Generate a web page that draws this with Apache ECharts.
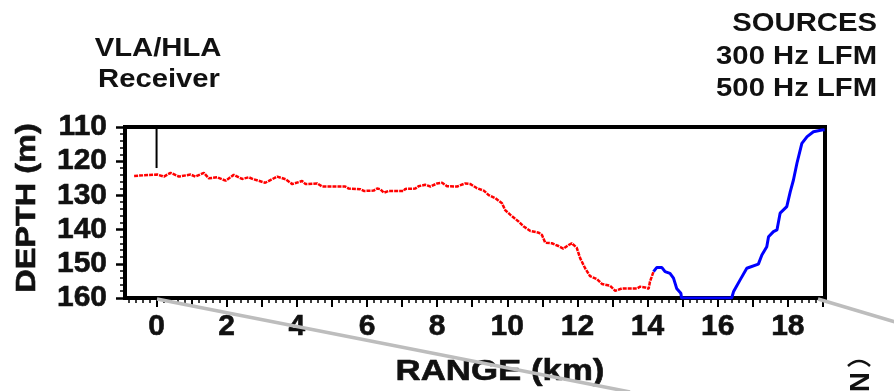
<!DOCTYPE html>
<html>
<head>
<meta charset="utf-8">
<script src="https://cdn.jsdelivr.net/npm/echarts@6/dist/echarts.min.js"></script>
<style>
  html, body { margin: 0; padding: 0; background: #fff; }
  #chart { width: 894px; height: 391px; }
</style>
</head>
<body>
<div id="chart"></div>
<script>
// Bathymetry along the source track: range (km) and water depth (m)
const redRange = [-0.64, 0.02, 0.21, 0.40, 0.64, 0.97, 1.11, 1.35, 1.49, 1.73, 1.97, 2.20, 2.44, 2.63, 2.77, 3.10,
  3.44, 3.68, 3.87, 4.15, 4.25, 4.58, 4.72, 5.38, 5.48, 5.81, 5.91, 6.19, 6.29, 6.38, 6.48, 6.62, 7.05, 7.09,
  7.38, 7.47, 7.66, 7.81, 8.00, 8.14, 8.28, 8.57, 8.80, 8.95, 9.14, 9.33, 9.47, 9.66, 9.85, 9.94, 10.09, 10.33,
  10.47, 10.66, 10.90, 10.99, 11.08, 11.27, 11.46, 11.60, 11.75, 11.84, 11.98, 12.08, 12.22, 12.36, 12.56,
  12.70, 12.93, 13.08, 13.27, 13.70, 13.79, 13.93, 14.03, 14.07, 14.17];
const redDepth = [124.3, 123.9, 124.5, 123.4, 124.5, 123.9, 124.5, 123.4, 125.0, 124.7, 125.7, 124.0, 125.2, 124.7, 125.3, 126.3,
  124.5, 125.3, 126.7, 125.8, 126.7, 126.5, 127.4, 127.4, 128.0, 128.2, 128.7, 128.6, 128.0, 128.2, 129.2, 128.7, 128.7, 128.1,
  128.0, 127.3, 126.9, 127.4, 126.5, 126.3, 127.3, 127.4, 126.5, 126.7, 127.9, 128.6, 129.9, 130.8, 132.3, 134.3, 135.7, 137.7,
  139.1, 140.4, 140.9, 141.6, 143.8, 144.0, 144.8, 145.6, 144.5, 144.0, 145.3, 148.4, 151.3, 153.6, 154.5,
  155.9, 156.4, 157.9, 157.2, 157.2, 156.7, 156.9, 157.3, 155.2, 152.3];

const blueRange = [14.17, 14.26, 14.41, 14.50, 14.64, 14.74, 14.83, 14.95, 14.97, 16.40, 16.45, 16.64, 16.83, 17.16,
  17.26, 17.40, 17.45, 17.59, 17.69, 17.78, 17.97, 18.07, 18.16, 18.26, 18.40, 18.55, 18.73, 18.97, 19.05];
const blueDepth = [152.3, 151.1, 151.1, 152.3, 152.8, 154.2, 157.2, 158.6, 160.0, 160.0, 158.2, 154.7, 151.3, 150.1,
  147.4, 145.0, 142.1, 140.6, 140.1, 135.2, 133.3, 128.9, 125.5, 120.6, 114.8, 112.8, 111.4, 110.9, 110.8];

// Receiver array position (range) and its vertical extent (depth)
const receiverRange = [0, 0];
const receiverDepth = [110, 122];

const xLabels = [0, 2, 4, 6, 8, 10, 12, 14, 16, 18];
const xMajorTicks = [0, 1, 2, 3, 4, 5, 6, 7, 8, 9, 10, 11, 12, 13, 14, 15, 16, 17, 18, 19];
const xMinorTicks = [];
for (let k = -8; k <= 95; k++) { if (k % 5 !== 0) xMinorTicks.push(+(k * 0.2).toFixed(1)); }

const zip = (a, b) => a.map((v, i) => [v, b[i]]);

const FONT = '"Liberation Sans", Arial, sans-serif';
const INK = '#111';
const XMIN = -0.9, XMAX = 19.06;

const chart = echarts.init(document.getElementById('chart'), null, { renderer: 'canvas' });

const titleText = (text, x, y, align) => ({
  type: 'text', x, y, scaleX: 1.17, z: 10,
  style: { text, fontSize: 25, fontWeight: 'bold', fontFamily: FONT, fill: INK, align, verticalAlign: 'middle' }
});

const heavyLabel = {
  fontSize: 30, fontWeight: 'bold', fontFamily: FONT, color: INK,
  textBorderColor: INK, textBorderWidth: 0.6
};

chart.setOption({
  animation: false,
  backgroundColor: '#fff',
  grid: {
    left: 125, right: 69, top: 127, bottom: 93,
    show: true, borderColor: '#000', borderWidth: 4, backgroundColor: 'transparent'
  },
  xAxis: [{
    type: 'value', min: XMIN, max: XMAX,
    axisLine: { show: true, onZero: false, lineStyle: { color: '#000', width: 4 } },
    axisTick: { show: true, customValues: xMajorTicks, length: 9, inside: false, lineStyle: { color: '#000', width: 2 } },
    axisLabel: Object.assign({ show: true, customValues: xLabels, margin: 14 }, heavyLabel),
    splitLine: { show: false }
  }, {
    type: 'value', min: XMIN, max: XMAX, position: 'bottom',
    axisLine: { show: false, onZero: false },
    axisTick: { show: true, customValues: xMinorTicks, length: 5, inside: false, lineStyle: { color: '#000', width: 1.5 } },
    axisLabel: { show: false },
    splitLine: { show: false }
  }],
  yAxis: {
    type: 'value', inverse: true, min: 110, max: 160, interval: 10,
    axisLine: { show: true, onZero: false, lineStyle: { color: '#000', width: 4 } },
    axisTick: { show: true, length: 9, lineStyle: { color: '#000', width: 2.5 } },
    minorTick: { show: true, splitNumber: 5, length: 5, lineStyle: { color: '#000', width: 1.5 } },
    axisLabel: Object.assign({ margin: 18 }, heavyLabel),
    splitLine: { show: false }
  },
  series: [{
    name: '300 Hz LFM', type: 'line', data: zip(redRange, redDepth),
    showSymbol: false, symbol: 'none', z: 3,
    lineStyle: { color: '#ff0000', width: 2.5, type: [4, 1] }
  }, {
    name: '500 Hz LFM', type: 'line', data: zip(blueRange, blueDepth),
    showSymbol: false, symbol: 'none', z: 4,
    lineStyle: { color: '#0000ff', width: 3 }
  }, {
    name: 'VLA/HLA', type: 'line', data: zip(receiverRange, receiverDepth),
    showSymbol: false, symbol: 'none', z: 4,
    lineStyle: { color: '#000', width: 2 }
  }],
  graphic: [
    titleText('VLA/HLA', 158, 49, 'center'),
    titleText('Receiver', 159, 80, 'center'),
    titleText('SOURCES', 877, 24, 'right'),
    titleText('300 Hz LFM', 877, 57, 'right'),
    titleText('500 Hz LFM', 877, 89, 'right'),
    {
      type: 'text', x: 27, y: 208, rotation: Math.PI / 2, scaleX: 1.16, z: 10,
      style: { text: 'DEPTH (m)', fontSize: 28, fontWeight: 'bold', fontFamily: FONT, fill: INK,
        stroke: INK, lineWidth: 0.6, align: 'center', verticalAlign: 'middle' }
    },
    {
      type: 'text', x: 500, y: 372, scaleX: 1.16, z: 10,
      style: { text: 'RANGE (km)', fontSize: 30, fontWeight: 'bold', fontFamily: FONT, fill: INK,
        stroke: INK, lineWidth: 0.6, align: 'center', verticalAlign: 'middle' }
    },
    // track direction guides below the section
    {
      type: 'line', z: 20, silent: true,
      shape: { x1: 157, y1: 299, x2: 630, y2: 392 },
      style: { stroke: '#bdbdbd', lineWidth: 3.5 }
    },
    {
      type: 'line', z: 20, silent: true,
      shape: { x1: 818, y1: 299, x2: 895, y2: 322 },
      style: { stroke: '#bdbdbd', lineWidth: 3.5 }
    },
    // north unit vector marker
    {
      type: 'text', x: 858, y: 382, rotation: -Math.PI / 2, z: 10,
      style: { text: 'N', fontSize: 28, fontWeight: 'bold', fontFamily: FONT, fill: INK, align: 'center', verticalAlign: 'middle' }
    },
    {
      type: 'bezierCurve', z: 10, silent: true,
      shape: { x1: 848, y1: 366, x2: 870, y2: 366, cpx1: 859, cpy1: 356 },
      style: { stroke: INK, lineWidth: 2.5, fill: null }
    }
  ]
});
</script>
</body>
</html>
